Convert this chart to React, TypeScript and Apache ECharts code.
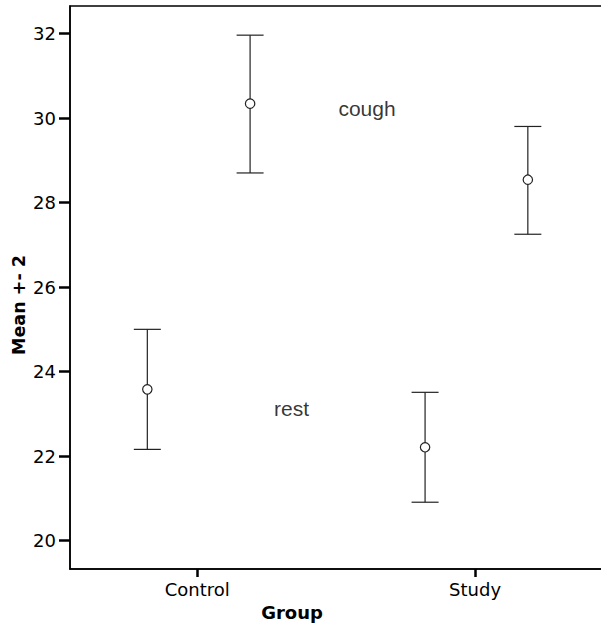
import React, { useEffect, useRef } from "react";
import * as echarts from "echarts";

const groups = ["Control", "Study"];
const groupPositions = [1, 2];
const conditions = ["rest", "cough"];
const conditionOffsets = [-0.18, 0.19];
const restMeans = [23.58, 22.21];
const restLower = [22.16, 20.91];
const restUpper = [25.0, 23.51];
const coughMeans = [30.34, 28.54];
const coughLower = [28.7, 27.25];
const coughUpper = [31.96, 29.8];
const yTicks = [20, 22, 24, 26, 28, 30, 32];
const lineLabels = [
  { name: "cough", x: 1.611, y: 30.23 },
  { name: "rest", x: 1.339, y: 23.13 },
];

export default function App() {
  const ref = useRef<HTMLDivElement>(null);
  useEffect(() => {
    if (!ref.current) return;
    document.body.style.overflow = "hidden";
    const chart = echarts.init(ref.current, null, { renderer: "svg" });
    const means = [restMeans, coughMeans];
    const lows = [restLower, coughLower];
    const highs = [restUpper, coughUpper];
    const barData: number[][] = [];
    conditions.forEach((_, ci) => {
      groups.forEach((_, gi) => {
        barData.push([
          groupPositions[gi] + conditionOffsets[ci],
          means[ci][gi],
          lows[ci][gi],
          highs[ci][gi],
        ]);
      });
    });
    chart.setOption({
      animation: false,
      grid: {
        left: 70,
        top: 6,
        right: 10,
        bottom: 59,
        show: true,
        borderColor: "#000",
        borderWidth: 1.5,
        containLabel: false,
      },
      xAxis: {
        type: "value",
        min: 0.5416,
        max: 2.457,
        splitLine: { show: false },
        axisLine: { lineStyle: { color: "#000", width: 1.5 } },
        axisTick: {
          customValues: groupPositions,
          length: 8,
          lineStyle: { color: "#000", width: 2.5 },
        },
        axisLabel: {
          customValues: groupPositions,
          formatter: (v: number) => groups[groupPositions.indexOf(Math.round(v))] ?? "",
          margin: 11,
          color: "#000",
          fontFamily: "DejaVu Sans",
          fontSize: 18,
        },
      },
      yAxis: {
        type: "value",
        min: 19.33,
        max: 32.65,
        splitLine: { show: false },
        axisLine: { lineStyle: { color: "#000", width: 1.5 } },
        axisTick: {
          customValues: yTicks,
          length: 11,
          lineStyle: { color: "#000", width: 2.5 },
        },
        axisLabel: {
          customValues: yTicks,
          margin: 14,
          color: "#000",
          fontFamily: "DejaVu Sans",
          fontSize: 18,
        },
      },
      graphic: [
        {
          type: "text",
          x: 292,
          y: 612,
          style: {
            text: "Group",
            fontFamily: "DejaVu Sans",
            fontWeight: "bold",
            fontSize: 18,
            fill: "#000",
            align: "center",
            verticalAlign: "middle",
          },
        },
        {
          type: "text",
          x: 19,
          y: 305,
          rotation: Math.PI / 2,
          style: {
            text: "Mean +- 2",
            fontFamily: "DejaVu Sans",
            fontWeight: "bold",
            fontSize: 17.5,
            fill: "#000",
            align: "center",
            verticalAlign: "middle",
          },
        },
      ],
      series: [
        {
          type: "custom",
          data: barData,
          renderItem: (params: any, api: any) => {
            const x = api.value(0);
            const m = api.coord([x, api.value(1)]);
            const lo = api.coord([x, api.value(2)]);
            const hi = api.coord([x, api.value(3)]);
            const cap = 13.5;
            const ls = { stroke: "#222", lineWidth: 1.2 };
            return {
              type: "group",
              children: [
                { type: "line", shape: { x1: m[0], y1: hi[1], x2: m[0], y2: lo[1] }, style: ls },
                { type: "line", shape: { x1: m[0] - cap, y1: hi[1], x2: m[0] + cap, y2: hi[1] }, style: ls },
                { type: "line", shape: { x1: m[0] - cap, y1: lo[1], x2: m[0] + cap, y2: lo[1] }, style: ls },
                { type: "circle", shape: { cx: m[0], cy: m[1], r: 4.7 }, style: { fill: "#fff", stroke: "#222", lineWidth: 1.2 } },
              ],
            };
          },
        },
        {
          type: "scatter",
          symbolSize: 0,
          data: lineLabels.map((l) => ({ name: l.name, value: [l.x, l.y] })),
          label: {
            show: true,
            position: "inside",
            formatter: (p: any) => p.name,
            color: "#000",
            fontFamily: "Liberation Sans",
            fontSize: 21,
          },
        },
      ],
    });
    return () => chart.dispose();
  }, []);
  return (
    <div
      ref={ref}
      style={{ position: "fixed", left: 0, top: 0, width: 612, height: 628, background: "#fff" }}
    />
  );
}
